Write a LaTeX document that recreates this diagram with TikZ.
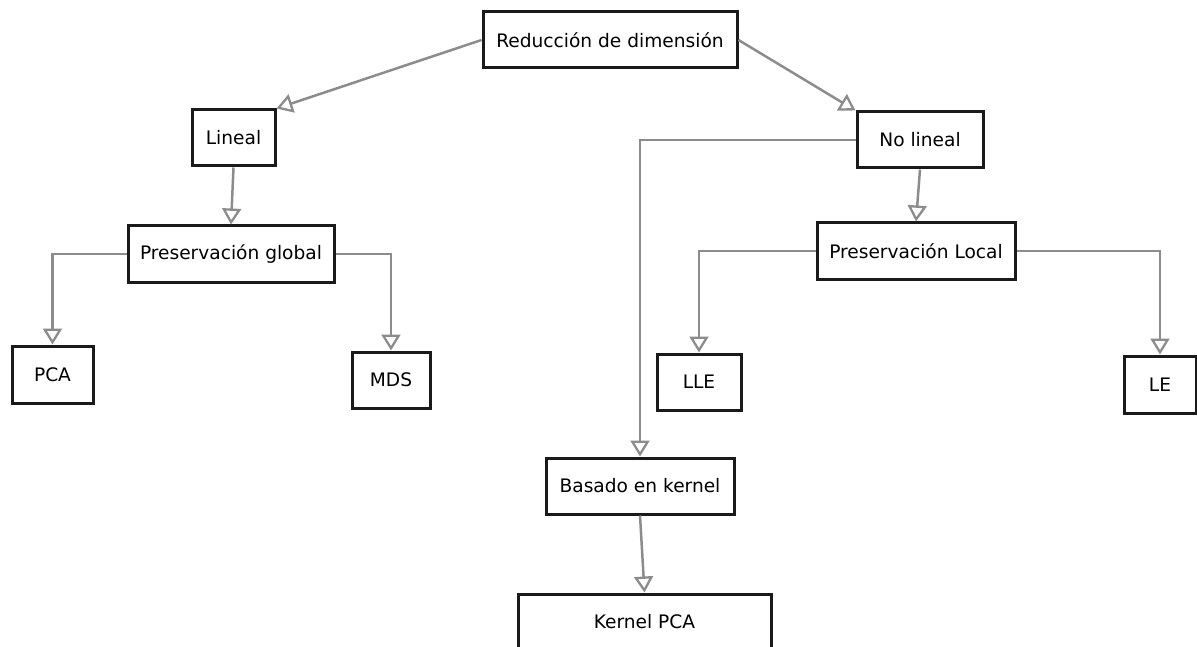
\documentclass[tikz,border=0pt]{standalone}
\usepackage{fontspec}
\setmainfont{DejaVu Sans}
\usetikzlibrary{arrows.meta}
\definecolor{conn}{HTML}{8C8C8C}
\definecolor{edge}{HTML}{1A1A1A}
\begin{document}
\begin{tikzpicture}[x=1pt,y=-1pt,
  box/.style={draw=edge,line width=3pt,fill=white,inner sep=0pt,font=\fontsize{18.6}{21}\selectfont},
  conn/.style={draw=conn,line width=2.5pt,-{Triangle[open,length=16pt,width=19pt,line width=2.3pt]}}]
\useasboundingbox (0,0) rectangle (1197,647);
\node[box,minimum width=254pt,minimum height=56pt] (red) at (610,40) {Reducción de dimensión};
\node[box,minimum width=83pt,minimum height=56pt] (lin) at (233.5,138) {Lineal};
\node[box,minimum width=126pt,minimum height=56pt] (nol) at (920,140) {No lineal};
\node[box,minimum width=206pt,minimum height=56pt] (pg) at (231,254) {Preservación global};
\node[box,minimum width=198pt,minimum height=56pt] (pl) at (916,251) {Preservación Local};
\node[box,minimum width=81pt,minimum height=57pt] (pca) at (52.5,374.5) {PCA};
\node[box,minimum width=78pt,minimum height=56pt] (mds) at (391,380) {MDS};
\node[box,minimum width=84pt,minimum height=56pt] (lle) at (699,382) {LLE};
\node[box,minimum width=72pt,minimum height=57pt] (le) at (1160,384.5) {LE};
\node[box,minimum width=188pt,minimum height=56pt] (bk) at (640,486) {Basado en kernel};
\node[box,minimum width=253pt,minimum height=56pt] (kpca) at (644.5,622) {Kernel PCA};
\draw[conn] (red.west) -- (lin.north east);
\draw[conn] (red.east) -- (nol.north west);
\draw[conn] (lin.south) -- (pg.north);
\draw[conn] (nol.south) -- (pl.north);
\draw[conn] (nol.west) -| (bk.north);
\draw[conn] (pl.west) -| (lle.north);
\draw[conn] (pl.east) -| (le.north);
\draw[conn] (pg.west) -| (pca.north);
\draw[conn] (pg.east) -| (mds.north);
\draw[conn] (bk.south) -- (kpca.north);
\end{tikzpicture}
\end{document}
